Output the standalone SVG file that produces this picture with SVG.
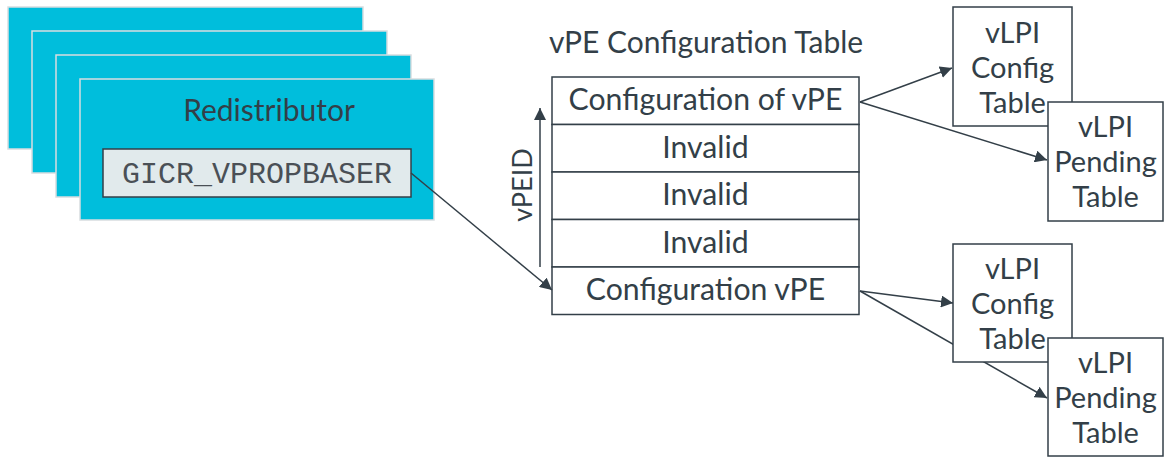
<svg xmlns="http://www.w3.org/2000/svg" width="1164" height="457" viewBox="0 0 1164 457">
  <style>
    .stack { fill: #00bedc; stroke: #d8dde0; stroke-width: 1.5; }
    .reg { fill: #e1eaec; stroke: #333f48; stroke-width: 1.5; }
    .box { fill: #ffffff; stroke: #333f48; stroke-width: 1.5; }
    .lbl { font-family: Lato, "Liberation Sans", sans-serif; font-size: 29px; fill: #333f48; text-anchor: middle; }
    .big { font-size: 30px; }
    .row { font-size: 30.2px; }
    .mono { font-family: "Liberation Mono", "Courier New", monospace; font-size: 30px; fill: #4a5056; text-anchor: middle; }
    .conn { fill: none; stroke: #333f48; stroke-width: 1.5; }
  </style>
  <defs>
    <marker id="arrow" viewBox="0 0 12 12" refX="12" refY="6" markerWidth="12" markerHeight="12" markerUnits="userSpaceOnUse" orient="auto">
      <path d="M0,0 L12,6 L0,12 Z" fill="#333f48"/>
    </marker>
  </defs>

  <!-- stacked redistributors -->
  <g id="redistributor-stack">
    <rect class="stack" x="8" y="7" width="355" height="142"/>
    <rect class="stack" x="32" y="31" width="355" height="142"/>
    <rect class="stack" x="56" y="55" width="355" height="142"/>
  </g>
  <g id="redistributor">
    <rect class="stack" x="80" y="79" width="354" height="141"/>
    <text class="lbl big" x="269" y="121">Redistributor</text>
  </g>
  <g id="gicr-vpropbaser">
    <rect class="reg" x="103" y="149" width="308" height="48"/>
    <text class="mono" x="257" y="183">GICR_VPROPBASER</text>
  </g>

  <!-- vPE configuration table -->
  <g id="vpe-table">
    <text class="lbl big" x="706" y="53">vPE Configuration Table</text>
    <rect class="box" x="552" y="77" width="307" height="47.5"/>
    <rect class="box" x="552" y="124.5" width="307" height="47.5"/>
    <rect class="box" x="552" y="172" width="307" height="47.5"/>
    <rect class="box" x="552" y="219.5" width="307" height="47.5"/>
    <rect class="box" x="552" y="267" width="307" height="47.5"/>
    <text class="lbl row" x="705.5" y="110">Configuration of vPE</text>
    <text class="lbl row" x="705.5" y="157.5">Invalid</text>
    <text class="lbl row" x="705.5" y="205">Invalid</text>
    <text class="lbl row" x="705.5" y="252.5">Invalid</text>
    <text class="lbl row" x="705.5" y="300">Configuration vPE</text>
  </g>

  <g id="vpeid-axis">
    <line class="conn" x1="540" y1="267" x2="540" y2="108" marker-end="url(#arrow)"/>
    <text class="lbl" transform="translate(532,185) rotate(-90)" x="0" y="0" style="font-size:27px">vPEID</text>
  </g>

  <!-- connectors (drawn beneath the vLPI boxes) -->
  <g id="connectors">
    <line class="conn" x1="411" y1="173" x2="552" y2="290" marker-end="url(#arrow)"/>
    <line class="conn" x1="860" y1="102" x2="952" y2="68" marker-end="url(#arrow)"/>
    <line class="conn" x1="860" y1="102" x2="1047" y2="160" marker-end="url(#arrow)"/>
    <line class="conn" x1="860" y1="291" x2="953" y2="303" marker-end="url(#arrow)"/>
    <line class="conn" x1="860" y1="291" x2="1047" y2="398" marker-end="url(#arrow)"/>
  </g>

  <!-- vLPI tables for the first vPE -->
  <g id="vlpi-config-1">
    <rect class="box" x="953" y="7" width="119" height="119"/>
    <text class="lbl" x="1012.5" y="43">vLPI</text>
    <text class="lbl" x="1012.5" y="78">Config</text>
    <text class="lbl" x="1012.5" y="113">Table</text>
  </g>
  <g id="vlpi-pending-1">
    <rect class="box" x="1048" y="102" width="115" height="119"/>
    <text class="lbl" x="1105.5" y="137">vLPI</text>
    <text class="lbl" x="1105.5" y="172">Pending</text>
    <text class="lbl" x="1105.5" y="207">Table</text>
  </g>

  <!-- vLPI tables for the second vPE -->
  <g id="vlpi-config-2">
    <rect class="box" x="953" y="244" width="119" height="118"/>
    <text class="lbl" x="1012.5" y="279">vLPI</text>
    <text class="lbl" x="1012.5" y="314">Config</text>
    <text class="lbl" x="1012.5" y="349">Table</text>
  </g>
  <g id="vlpi-pending-2">
    <rect class="box" x="1048" y="338" width="115" height="118"/>
    <text class="lbl" x="1105.5" y="373">vLPI</text>
    <text class="lbl" x="1105.5" y="408">Pending</text>
    <text class="lbl" x="1105.5" y="443">Table</text>
  </g>
</svg>
